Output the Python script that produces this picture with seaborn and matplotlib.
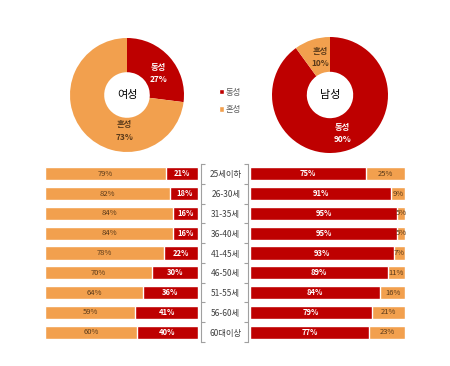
import matplotlib
matplotlib.use("Agg")
import matplotlib.pyplot as plt
from matplotlib.patches import Patch
from matplotlib.ticker import FixedLocator
import seaborn as sns
import pandas as pd

# ---- data ----
ages = ["25세이하", "26-30세", "31-35세", "36-40세", "41-45세", "46-50세", "51-55세", "56-60세", "60대이상"]
female_same = [21, 18, 16, 16, 22, 30, 36, 41, 40]   # 동성
female_mixed = [79, 82, 84, 84, 78, 70, 64, 59, 60]  # 혼성
male_same = [75, 91, 95, 95, 93, 89, 84, 79, 77]
male_mixed = [25, 9, 5, 5, 7, 11, 16, 21, 23]
pie_labels = ["동성", "혼성"]
female_pie = [27, 73]
male_pie = [90, 10]
centers = ["여성", "남성"]

RED = "#BE0000"
ORANGE = "#F2A04E"
DARK = "#404040"

sns.set_theme(style="white")
plt.rcParams["font.family"] = ["Noto Sans CJK KR", "DejaVu Sans"]

W, H = 450, 366
fig = plt.figure(figsize=(W / 100, H / 100), dpi=100)


def fx(px):
    return px / W


def fy(py):
    return 1 - py / H


# ---- donuts ----
def donut(cx, cy, r, vals, colors, center, label_pos, label_colors):
    ax = fig.add_axes([fx(cx - r), fy(cy + r), 2 * r / W, 2 * r / H])
    ax.pie(vals, colors=colors, startangle=90, counterclock=False,
           wedgeprops=dict(width=0.6, linewidth=0))
    ax.set_xlim(-1, 1)
    ax.set_ylim(-1, 1)
    ax.set_aspect("auto")
    ax.axis("off")
    ax.text(0, 0, center, ha="center", va="center", fontsize=8, color="black")
    for name, v, (px, py), c in zip(pie_labels, vals, label_pos, label_colors):
        ax.text(px, py, f"{name}\n{v}%", ha="center", va="center", fontsize=6,
                color=c, linespacing=1.5, fontweight="bold")
    return ax


donut(127, 95, 57, female_pie, [RED, ORANGE], centers[0],
      [(0.55, 0.38), (-0.04, -0.63)], ["white", "#5a3a1a"])
donut(330, 95, 58, male_pie, [RED, ORANGE], centers[1],
      [(0.21, -0.66), (-0.17, 0.65)], ["white", "#5a3a1a"])

# ---- legend ----
handles = [Patch(facecolor=RED), Patch(facecolor=ORANGE)]
fig.legend(handles, pie_labels, loc="upper left", bbox_to_anchor=(fx(211), fy(80)),
           frameon=False, fontsize=6, handlelength=0.6, handleheight=0.6,
           labelspacing=1.0, handletextpad=0.3, labelcolor="#595959")

# ---- bars ----
top_px, bot_px = 164, 342
bar_w = 0.66
df = pd.DataFrame({"age": ages, "fs": female_same, "fm": female_mixed,
                   "ms": male_same, "mm": male_mixed})
df["ftot"] = df["fs"] + df["fm"]
df["mtot"] = df["ms"] + df["mm"]

axL = fig.add_axes([fx(45), fy(bot_px), (201 - 45) / W, (bot_px - top_px) / H])
sns.barplot(data=df, x="ftot", y="age", color=ORANGE, orient="h", width=bar_w,
            ax=axL, saturation=1)
sns.barplot(data=df, x="fs", y="age", color=RED, orient="h", width=bar_w,
            ax=axL, saturation=1)
axL.set_xlim(100, -2)
axL.set_ylim(8.5, -0.5)

axR = fig.add_axes([fx(248), fy(bot_px), (405 - 248) / W, (bot_px - top_px) / H])
sns.barplot(data=df, x="mtot", y="age", color=ORANGE, orient="h", width=bar_w,
            ax=axR, saturation=1)
sns.barplot(data=df, x="ms", y="age", color=RED, orient="h", width=bar_w,
            ax=axR, saturation=1)
axR.set_xlim(-1.3, 100)
axR.set_ylim(8.5, -0.5)

for ax, mixed, same in [(axL, female_mixed, female_same), (axR, male_mixed, male_same)]:
    c_tot, c_same = ax.containers[0], ax.containers[1]
    for rect, m, s in zip(c_tot, mixed, same):
        yc = rect.get_y() + rect.get_height() / 2
        ax.text(s + m / 2, yc, f"{m}%", ha="center", va="center", fontsize=5.5,
                color="#5a3a1a")
    ax.bar_label(c_same, labels=[f"{v}%" for v in same], label_type="center",
                 fontsize=5.5, color="white", fontweight="bold")
    ax.set_xlabel("")
    ax.set_ylabel("")
    ax.set_xticks([])
    for sp in ["top", "bottom", "left", "right"]:
        ax.spines[sp].set_visible(False)
    ax.yaxis.set_minor_locator(FixedLocator([i - 0.5 for i in range(len(ages) + 1)]))

axL.spines["right"].set_visible(True)
axL.spines["right"].set_color("#a0a0a0")
axL.spines["right"].set_linewidth(0.8)
axL.yaxis.tick_right()
axL.tick_params(axis="y", which="major", length=0, labelright=False, labelleft=False)
axL.tick_params(axis="y", which="minor", direction="out", length=3, color="#a0a0a0",
                width=0.8, right=True, left=False)

axR.spines["left"].set_visible(True)
axR.spines["left"].set_color("#a0a0a0")
axR.spines["left"].set_linewidth(0.8)
axR.tick_params(axis="y", which="major", length=0, pad=16, labelsize=6,
                labelcolor=DARK, left=True, labelleft=True)
axR.tick_params(axis="y", which="minor", direction="out", length=3, color="#a0a0a0",
                width=0.8, left=True)
for t in axR.get_yticklabels():
    t.set_horizontalalignment("center")

fig.savefig("out.png", dpi=100, facecolor="white")
